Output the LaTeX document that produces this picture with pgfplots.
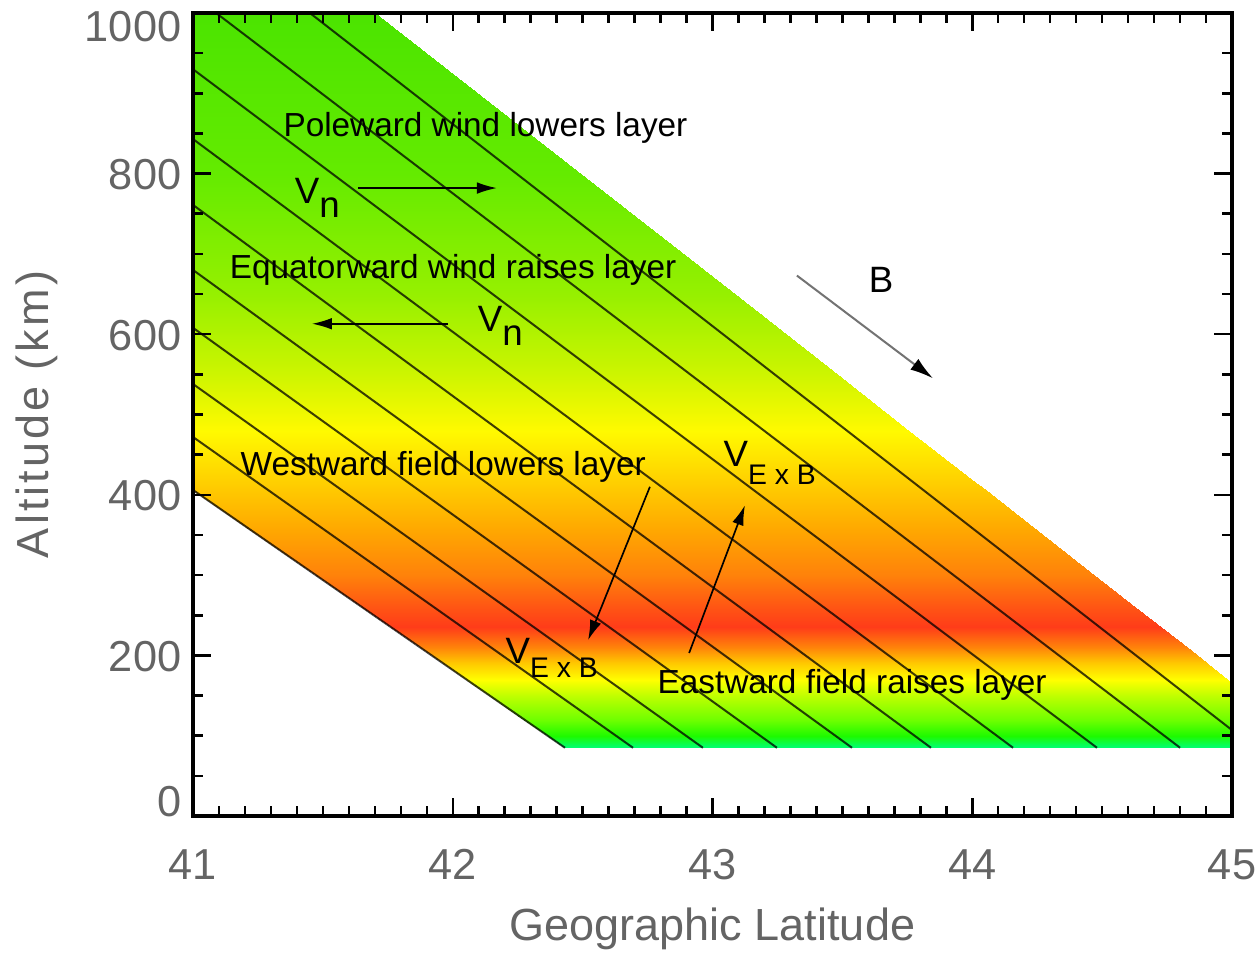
\documentclass[border=0pt]{standalone}
\usepackage{fontspec}
\setmainfont{Liberation Sans}
\usepackage{pgfplots}
\pgfplotsset{compat=1.18}
\usetikzlibrary{arrows.meta,calc}
\definecolor{lblgray}{RGB}{100,100,100}
% colour against altitude (position = altitude/5)
\pgfplotsset{colormap={layer}{[1pt]
  rgb255(17pt)=(0,255,120)
  rgb255(20pt)=(30,250,0)
  rgb255(24pt)=(110,255,0)
  rgb255(30pt)=(190,255,0)
  rgb255(34pt)=(255,255,0)
  rgb255(38pt)=(255,200,0)
  rgb255(42pt)=(255,130,10)
  rgb255(47pt)=(255,60,25)
  rgb255(52pt)=(255,85,20)
  rgb255(60pt)=(255,130,10)
  rgb255(72pt)=(255,170,0)
  rgb255(84pt)=(255,210,0)
  rgb255(96pt)=(255,250,0)
  rgb255(110pt)=(205,245,0)
  rgb255(130pt)=(150,240,0)
  rgb255(160pt)=(100,235,0)
  rgb255(200pt)=(75,228,0)
}}
\begin{document}
\begin{tikzpicture}
\begin{axis}[
    name=ax,
    scale only axis, width=311.7pt, height=240.9pt,
    xmin=41, xmax=45, ymin=0, ymax=1000,
    xtick={41,42,43,44,45}, ytick={0,200,400,600,800,1000},
    yticklabels={\raisebox{0pt}[0pt][0pt]{0},\raisebox{-4.8pt}[0pt][0pt]{200},\raisebox{-4.8pt}[0pt][0pt]{400},\raisebox{-4.8pt}[0pt][0pt]{600},\raisebox{-4.8pt}[0pt][0pt]{800},\raisebox{-8.7pt}[0pt][0pt]{1000}},
    minor x tick num=9, minor y tick num=3,
    tick align=inside, major tick length=5.5pt, minor tick length=3pt,
    tick style={black, line width=0.75pt},
    axis line style={line width=1pt},
    axis on top,
    /pgf/number format/assume math mode=true,
    /pgf/number format/1000 sep={},
    ticklabel style={font=\fontsize{13}{15}\selectfont, text=lblgray},
    xticklabel style={yshift=-6.5pt},
    xlabel={Geographic Latitude}, ylabel={Altitude (km)},
    label style={font=\fontsize{13.5}{16}\selectfont, text=lblgray},
    x label style={at={(axis description cs:0.5,-0.14)}, anchor=center},
    y label style={at={(axis description cs:-0.15,0.5)}, anchor=center,
        font=\fontsize{13.5}{16}\selectfont\addfontfeature{LetterSpace=7}},
    colormap name=layer, point meta min=85, point meta max=1000,
]
% coloured layer region (left and right edges at each altitude)
\addplot[surf, shader=interp, mesh/cols=2, mesh/rows=19, point meta=y] table {
x y
42.432 85
45 85
42.365 100
45 100
42.276 120
45 120
42.142 150
45 150
42.071 166
45 166
42.053 170
44.984 170
41.964 190
44.905 190
41.874 210
44.826 210
41.763 235
44.727 235
41.651 260
44.628 260
41.473 300
44.470 300
41.205 360
44.233 360
41 406
44.051 406
41 420
43.995 420
41 480
43.758 480
41 550
43.481 550
41 650
43.085 650
41 800
42.492 800
41 1000
41.701 1000
};
% field lines
\pgfplotsset{fl/.style={black, line width=0.6pt, opacity=0.75, mark=none}}
\addplot[fl] coordinates {(41,406) (42.432,85)};
\addplot[fl] coordinates {(41,472) (42.694,85)};
\addplot[fl] coordinates {(41,538) (42.963,85)};
\addplot[fl] coordinates {(41,608) (43.248,85)};
\addplot[fl] coordinates {(41,680) (43.537,85)};
\addplot[fl] coordinates {(41,761) (43.841,85)};
\addplot[fl] coordinates {(41,843) (44.157,85)};
\addplot[fl] coordinates {(41,930) (44.480,85)};
\addplot[fl] coordinates {(41.089,1000) (44.800,85)};
\addplot[fl] coordinates {(41.450,1000) (45,107)};
% arrows
\pgfplotsset{arr/.style={black, line width=0.5pt, mark=none, -{Latex[length=6pt,width=3.5pt]}}}
\addplot[arr] coordinates {(41.635,782) (42.170,782)};
\addplot[arr] coordinates {(41.982,613) (41.458,613)};
\addplot[arr] coordinates {(42.759,410) (42.521,219)};
\addplot[arr] coordinates {(42.91,203) (43.125,387)};
\addplot[black!55, line width=0.6pt, mark=none, -{Latex[length=7pt,width=4pt,black]}] coordinates {(43.325,673) (43.849,545)};
% labels
\tikzset{ann/.style={anchor=base west, inner sep=0pt, font=\fontsize{10}{12}\selectfont}}
\node[ann] at (axis cs:41.346,845.6) {Poleward wind lowers layer};
\node[ann, font=\fontsize{11}{13}\selectfont] at (axis cs:41.39,763) {V\raisebox{-4.2pt}{n}};
\node[ann] at (axis cs:41.139,669) {Equatorward wind raises layer};
\node[ann, font=\fontsize{11}{13}\selectfont] at (axis cs:42.094,603) {V\raisebox{-4.2pt}{n}};
\node[ann, font=\fontsize{11}{13}\selectfont] at (axis cs:43.599,652.5) {B};
\node[ann] at (axis cs:41.181,424.6) {Westward field lowers layer};
\node[ann, font=\fontsize{11}{13}\selectfont] at (axis cs:43.04,435) {V\raisebox{-5.4pt}{\fontsize{8.5}{10}\selectfont E x B}};
\node[ann, font=\fontsize{11}{13}\selectfont] at (axis cs:42.201,190.5) {V\raisebox{-4.2pt}{\fontsize{8.5}{10}\selectfont E x B}};
\node[ann] at (axis cs:42.786,153) {Eastward field raises layer};
\end{axis}
\pgfresetboundingbox
\path[use as bounding box] ($(ax.south west)+(-57.9pt,-41.4pt)$) rectangle ($(ax.north east)+(7.8pt,3.9pt)$);
\end{tikzpicture}
\end{document}
